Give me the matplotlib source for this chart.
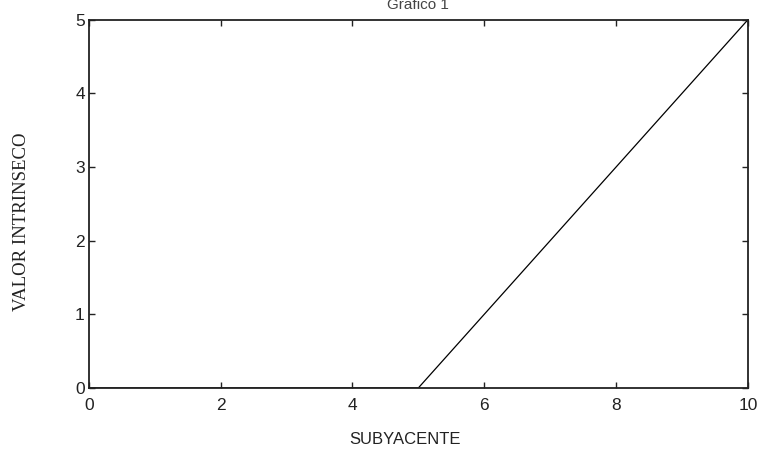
import matplotlib
matplotlib.use("Agg")
import matplotlib.pyplot as plt

# Call payoff: intrinsic value against the underlying price
subyacente = [0, 5, 10]
valor_intrinseco = [0, 0, 5]
x_ticks = [0, 2, 4, 6, 8, 10]
y_ticks = [0, 1, 2, 3, 4, 5]

fig = plt.figure(figsize=(7.6, 4.5), dpi=100)
ax = fig.add_axes([0.117, 0.138, 0.867, 0.818])

ax.plot(subyacente, valor_intrinseco, color="black", linewidth=0.9)
ax.set_xlim(0, 10)
ax.set_ylim(0, 5)
ax.set_xticks(x_ticks)
ax.set_yticks(y_ticks)

ax.tick_params(direction="in", top=True, right=True, length=4, width=1,
               labelsize=12.5, colors="#222222")
ax.tick_params(axis="x", pad=7)
ax.tick_params(axis="y", pad=3)
for lab in ax.get_xticklabels() + ax.get_yticklabels():
    lab.set_family("Liberation Sans")
for s in ax.spines.values():
    s.set_linewidth(1.3)
    s.set_color("#222222")

ax.set_xlabel("SUBYACENTE", family="Liberation Sans", fontsize=12,
              color="#222222", va="center")
ax.xaxis.set_label_coords(0.48, -0.139)
ax.set_ylabel("VALOR INTRINSECO", family="Liberation Serif", fontsize=13.5,
              color="#222222", va="center", ha="center")
ax.yaxis.set_label_coords(-0.102, 0.451)

ax.text(0.5, 1.02, "Grafico 1", transform=ax.transAxes, ha="center",
        va="bottom", family="Liberation Sans", fontsize=11, color="#444444")

fig.savefig("out.png", dpi=100, facecolor="white")
